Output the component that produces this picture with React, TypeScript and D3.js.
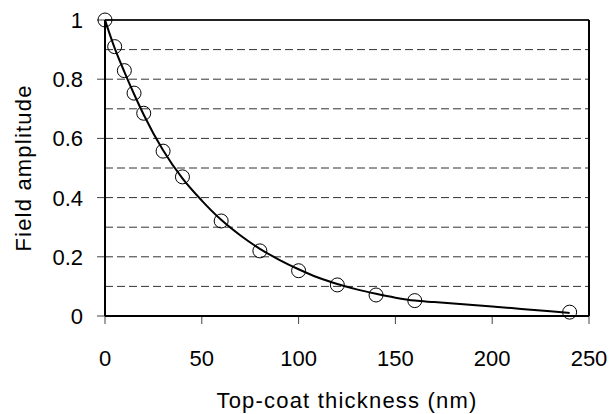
import React from "react";
import * as d3 from "d3";

const pointX = [0, 5, 10, 15, 20, 30, 40, 60, 80, 100, 120, 140, 160, 240];
const pointY = [1, 0.91, 0.829, 0.753, 0.685, 0.557, 0.47, 0.321, 0.22, 0.153, 0.105, 0.071, 0.052, 0.013];

const curveX = [0, 5, 10, 15, 20, 30, 40, 50, 60, 70, 80, 90, 100, 110, 120, 130, 140, 150, 160, 170, 180, 190, 200, 210, 220, 230, 240];
const curveY = [1, 0.905, 0.825, 0.75, 0.68, 0.56, 0.465, 0.39, 0.325, 0.272, 0.227, 0.19, 0.158, 0.13, 0.108, 0.09, 0.075, 0.062, 0.052, 0.047, 0.042, 0.037, 0.032, 0.027, 0.021, 0.016, 0.01];

const xTicks = [0, 50, 100, 150, 200, 250];
const yTicks = [0, 0.2, 0.4, 0.6, 0.8, 1];
const yGrid = [0.1, 0.2, 0.3, 0.4, 0.5, 0.6, 0.7, 0.8, 0.9];

export default function App() {
  const W = 612, H = 414;
  const left = 105, right = 589, top = 20, bottom = 316;
  const x = d3.scaleLinear().domain([0, 250]).range([left, right]);
  const y = d3.scaleLinear().domain([0, 1]).range([bottom, top]);
  const line = d3
    .line<number>()
    .x((_, i) => x(curveX[i]))
    .y((d) => y(d))
    .curve(d3.curveMonotoneX);
  const font = "Arial, 'Liberation Sans', sans-serif";
  return (
    <svg
      width={W}
      height={H}
      style={{ position: "absolute", left: 0, top: 0, background: "#fff" }}
      fontFamily={font}
    >
      {yGrid.map((v) => (
        <line
          key={"g" + v}
          x1={left}
          x2={right}
          y1={y(v)}
          y2={y(v)}
          stroke="#333"
          strokeWidth={1}
          strokeDasharray="8,4"
        />
      ))}
      {/* frame */}
      <line x1={left} x2={right} y1={top} y2={top} stroke="#222" strokeWidth={2} />
      <line x1={right} x2={right} y1={top} y2={bottom} stroke="#000" strokeWidth={2} />
      {/* ticks */}
      {yTicks.map((v) => (
        <g key={"yt" + v}>
          <line x1={left - 8} x2={left} y1={y(v)} y2={y(v)} stroke="#444" strokeWidth={1} />
          <text x={left - 22} y={y(v)} dy="0.36em" textAnchor="end" fontSize={22} fill="#000">
            {d3.format("")(v)}
          </text>
        </g>
      ))}
      {xTicks.map((v) => (
        <g key={"xt" + v}>
          <line x1={x(v)} x2={x(v)} y1={bottom} y2={bottom + 8} stroke="#444" strokeWidth={1} />
          <text x={x(v)} y={bottom + 50} textAnchor="middle" fontSize={22} fill="#000">
            {v}
          </text>
        </g>
      ))}
      <line x1={left} x2={left} y1={top} y2={bottom} stroke="#000" strokeWidth={2} />
      <line x1={left} x2={right} y1={bottom} y2={bottom} stroke="#000" strokeWidth={2} />
      <path d={line(curveY) || ""} fill="none" stroke="#000" strokeWidth={2} />
      {pointX.map((px, i) => (
        <circle key={"c" + i} cx={x(px)} cy={y(pointY[i])} r={7} fill="none" stroke="#000" strokeWidth={1} />
      ))}
      <text
        x={(left + right) / 2}
        y={408}
        textAnchor="middle"
        fontSize={22}
        letterSpacing={1.2}
        fill="#000"
      >
        Top-coat thickness (nm)
      </text>
      <text
        transform={`translate(${31},${(top + bottom) / 2}) rotate(-90)`}
        textAnchor="middle"
        fontSize={22}
        letterSpacing={1.2}
        fill="#000"
      >
        Field amplitude
      </text>
    </svg>
  );
}
